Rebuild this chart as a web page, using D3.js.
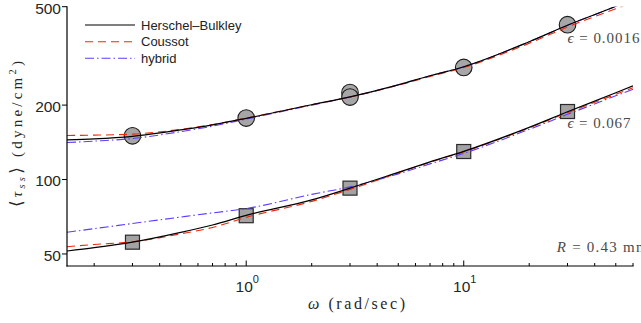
<!DOCTYPE html>
<html><head><meta charset="utf-8">
<script src="https://cdn.jsdelivr.net/npm/d3@7"></script>
<style>html,body{margin:0;padding:0;background:#fff;}svg{display:block;}</style>
</head><body>
<svg id="c" width="641" height="323"></svg>
<script>
// ---- data ----
const omega = [0.15,0.2,0.3,0.5,0.7,1,2,3,5,7,10,20,30,50,60];
const upperHB      = [144.7,146.0,149.5,158.8,166.5,176.8,200.6,216.0,241.6,262.8,285.8,360.8,420.7,502,538];
const upperCoussot = [150.7,151.2,152.6,159.6,166.8,177.2,200.6,215.5,240.6,261.0,283.7,355.8,413.9,490.8,521];
const upperHybrid  = [141.1,143.0,146.5,156.2,164.4,175.6,199.9,215.7,241.6,262.8,285.8,360.8,420.7,502,538];
const lowerHB      = [51.4,53.0,55.8,61.1,65.5,71.6,82.7,92.3,106.9,117.9,130.0,162.6,187.9,224.3,239.4];
const lowerCoussot = [53.5,54.6,56.0,60.3,64.0,70.3,81.6,91.2,106.4,117.5,129.4,161.8,186.4,221.1,235.0];
const lowerHybrid  = [61.2,63.3,66.4,70.5,73.3,76.3,87.1,93.4,105.4,115.7,127.6,159.6,183.5,218.1,231.7];
const circleOmega = [0.3,1,3,3,10,30];
const circleTau   = [150.2,177.2,224.9,215.5,284.0,422.8];
const squareOmega = [0.3,1,3,10,30];
const squareTau   = [55.8,71.4,92.3,129.8,188.4];
const yTicks = [50,100,200,500];
const xMajor = [1,10];
const xMinor = [0.2,0.3,0.4,0.5,0.6,0.7,0.8,0.9,2,3,4,5,6,7,8,9,20,30,40,50,60];
const legendNames = ["Herschel\u2013Bulkley","Coussot","hybrid"];

// ---- layout ----
const svg = d3.select("#c");
const L = 67, R = 633, T = 6.7, B = 266;
const x = d3.scaleLog().domain([0.15,60]).range([L,R]);
const y = d3.scaleLog().domain([44.7,500]).range([B,T]);

const styles = [
  {stroke:"#000", width:1.2, dash:null},
  {stroke:"#f0280a", width:1.1, dash:"8,5"},
  {stroke:"#5b3dff", width:1.1, dash:"9,3,1.5,3"}
];

svg.append("clipPath").attr("id","clip").append("rect")
  .attr("x",L).attr("y",T).attr("width",R-L).attr("height",B-T);

// markers
const g = svg.append("g");
g.selectAll("circle.pt").data(circleOmega.map((w,i)=>[w,circleTau[i]])).enter()
  .append("circle").attr("cx",d=>x(d[0])).attr("cy",d=>y(d[1])).attr("r",8.3)
  .attr("fill","#a6a6a6").attr("stroke","#1a1a1a").attr("stroke-width",1.1);
g.selectAll("rect.pt").data(squareOmega.map((w,i)=>[w,squareTau[i]])).enter()
  .append("rect").attr("x",d=>x(d[0])-7).attr("y",d=>y(d[1])-7).attr("width",14).attr("height",14)
  .attr("fill","#a3a3a3").attr("stroke","#2a2a2a").attr("stroke-width",1.2);

// curves
const line = d3.line().x(d=>x(d[0])).y(d=>y(d[1])).curve(d3.curveMonotoneX);
const curves = [
  [upperHB,0],[upperCoussot,1],[upperHybrid,2],
  [lowerHB,0],[lowerCoussot,1],[lowerHybrid,2]
];
const cg = svg.append("g").attr("clip-path","url(#clip)");
[2,1,0].forEach(s=>{
  curves.filter(c=>c[1]===s).forEach(c=>{
    const st = styles[s];
    cg.append("path").datum(omega.map((w,i)=>[w,c[0][i]]))
      .attr("d",line).attr("fill","none").attr("stroke",st.stroke)
      .attr("stroke-width",st.width).attr("stroke-dasharray",st.dash);
  });
});

// axes
const ax = svg.append("g").attr("stroke","#000").attr("stroke-width",1.2);
ax.append("line").attr("x1",L).attr("x2",L).attr("y1",T-0.5).attr("y2",B+0.6);
ax.append("line").attr("x1",L-0.6).attr("x2",R+0.6).attr("y1",B).attr("y2",B);
yTicks.forEach(t=>{
  ax.append("line").attr("x1",L-5).attr("x2",L).attr("y1",y(t)).attr("y2",y(t)).attr("stroke-width",1);
});
xMajor.forEach(t=>{
  ax.append("line").attr("x1",x(t)).attr("x2",x(t)).attr("y1",B).attr("y2",B-5.5).attr("stroke-width",1);
});
xMinor.forEach(t=>{
  ax.append("line").attr("x1",x(t)).attr("x2",x(t)).attr("y1",B).attr("y2",B-3).attr("stroke-width",1);
});

const sans = "'Liberation Sans', Arial, sans-serif";
const serif = "'Liberation Serif', 'DejaVu Serif', serif";
yTicks.forEach(t=>{
  svg.append("text").attr("x",L-6).attr("y",y(t)+6.9).attr("text-anchor","end")
    .attr("font-family",sans).attr("font-size",15.5).attr("fill","#262626").text(t);
});
xMajor.forEach(t=>{
  const tx = svg.append("text").attr("x",x(t)+1).attr("y",291.7).attr("text-anchor","middle")
    .attr("font-family",sans).attr("font-size",15.5).attr("fill","#262626");
  tx.append("tspan").text("10");
  tx.append("tspan").attr("dy",-8.4).attr("font-size",11).text(Math.round(Math.log10(t)));
});

// axis titles
const xl = svg.append("text").attr("x",356.5).attr("y",309).attr("text-anchor","middle")
  .attr("font-family",serif).attr("font-size",16).attr("fill","#262626")
  .attr("textLength",97).attr("lengthAdjust","spacing");
xl.append("tspan").attr("font-style","italic").text("\u03c9");
xl.append("tspan").text(" (rad/sec)");

const yl = svg.append("text").attr("transform","translate(22,134) rotate(-90)")
  .attr("text-anchor","middle").attr("font-family",serif).attr("font-size",15).attr("fill","#262626")
  .attr("textLength",146).attr("lengthAdjust","spacing");
yl.append("tspan").attr("font-size",17).text("\u27e8");
yl.append("tspan").attr("font-style","italic").text("\u03c4");
yl.append("tspan").attr("font-style","italic").attr("font-size",10.5).attr("dy",3).text("ss");
yl.append("tspan").attr("dy",-3).attr("font-size",17).text("\u27e9");
yl.append("tspan").text("  (dyne/cm");
yl.append("tspan").attr("font-size",10.5).attr("dy",-6).text("2");
yl.append("tspan").attr("dy",6).text(")");

// annotations
function note(xx,yy,parts,len){
  const t = svg.append("text").attr("x",xx).attr("y",yy).attr("font-family",serif)
    .attr("font-size",15).attr("fill","#4a4a4a").attr("textLength",len).attr("lengthAdjust","spacing");
  parts.forEach(p=>{ const s=t.append("tspan").text(p[0]); if(p[1]) s.attr("font-style","italic"); });
}
note(567.5,42.5,[["\u03f5",true],[" = 0.0016",false]],72);
note(567.5,127.5,[["\u03f5",true],[" = 0.067",false]],63);
note(556.7,251.5,[["R",true],[" = 0.43 mm",false]],91);

// legend
const legY = [25,41.7,58.3];
legendNames.forEach((n,i)=>{
  const st = styles[i];
  svg.append("line").attr("x1",85).attr("x2",135).attr("y1",legY[i]).attr("y2",legY[i])
    .attr("stroke",st.stroke).attr("stroke-width",st.width).attr("stroke-dasharray",st.dash);
  svg.append("text").attr("x",141).attr("y",legY[i]+4.6).attr("font-family",sans)
    .attr("font-size",13).attr("fill","#222").text(n);
});
</script>
</body></html>
